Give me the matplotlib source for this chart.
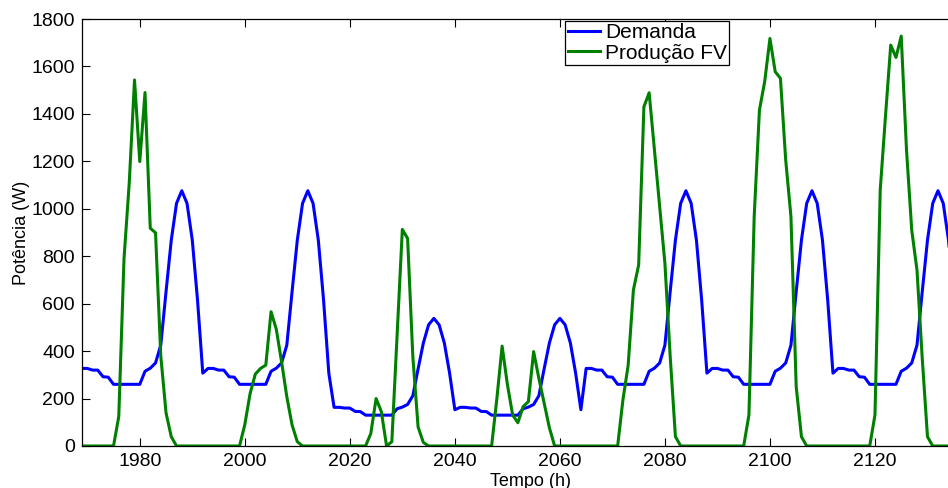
import numpy as np
import matplotlib.pyplot as plt

plt.rcParams['font.family'] = ['Liberation Sans', 'DejaVu Sans']

# hourly time axis
horas = np.arange(1969, 2137)

# load demand (W), one line per 24 h block
demanda = [
    327, 327, 320, 320, 292, 290,                                                   # 1969-1974
    260, 260, 260, 260, 260, 260, 315, 328, 350, 425, 650, 868,
    1023, 1076, 1023, 868, 615, 307, 327, 327, 320, 320, 292, 290,                  # 1975-1998
    260, 260, 260, 260, 260, 260, 315, 328, 350, 425, 650, 868,
    1023, 1076, 1023, 868, 615, 307, 163, 163, 160, 160, 146, 145,                  # 1999-2022
    130, 130, 130, 130, 130, 130, 157, 164, 175, 212, 325, 434,
    511, 538, 511, 434, 307, 153, 163, 163, 160, 160, 146, 145,                     # 2023-2046
    130, 130, 130, 130, 130, 130, 157, 164, 175, 212, 325, 434,
    511, 538, 511, 434, 307, 153, 327, 327, 320, 320, 292, 290,                     # 2047-2070
    260, 260, 260, 260, 260, 260, 315, 328, 350, 425, 650, 868,
    1023, 1076, 1023, 868, 615, 307, 327, 327, 320, 320, 292, 290,                  # 2071-2094
    260, 260, 260, 260, 260, 260, 315, 328, 350, 425, 650, 868,
    1023, 1076, 1023, 868, 615, 307, 327, 327, 320, 320, 292, 290,                  # 2095-2118
    260, 260, 260, 260, 260, 260, 315, 328, 350, 425, 650, 868,
    1023, 1076, 1023, 868, 615, 307,                                                # 2119-2136
]

# PV production (W)
producao = [
    0, 0, 0, 0, 0, 0,                                                               # 1969-1974
    0, 124, 790, 1110, 1543, 1199, 1490, 918, 899, 380, 140, 39,
    0, 0, 0, 0, 0, 0, 0, 0, 0, 0, 0, 0,                                             # 1975-1998
    0, 90, 220, 303, 327, 341, 566, 492, 355, 208, 89, 18,
    0, 0, 0, 0, 0, 0, 0, 0, 0, 0, 0, 0,                                             # 1999-2022
    0, 53, 200, 145, 0, 18, 470, 913, 875, 376, 80, 15,
    0, 0, 0, 0, 0, 0, 0, 0, 0, 0, 0, 0,                                             # 2023-2046
    0, 200, 421, 260, 131, 98, 166, 187, 398, 285, 181, 77,
    0, 0, 0, 0, 0, 0, 0, 0, 0, 0, 0, 0,                                             # 2047-2070
    0, 194, 340, 658, 763, 1430, 1489, 1250, 1010, 770, 380, 40,
    0, 0, 0, 0, 0, 0, 0, 0, 0, 0, 0, 0,                                             # 2071-2094
    0, 131, 967, 1416, 1536, 1718, 1578, 1550, 1206, 967, 250, 39,
    0, 0, 0, 0, 0, 0, 0, 0, 0, 0, 0, 0,                                             # 2095-2118
    0, 131, 1079, 1390, 1690, 1638, 1728, 1250, 910, 742, 370, 39,
    0, 0, 0, 0, 0, 0,                                                               # 2119-2136
]

xticks = [1980, 2000, 2020, 2040, 2060, 2080, 2100, 2120]
yticks = [0, 200, 400, 600, 800, 1000, 1200, 1400, 1600, 1800]

fig = plt.figure(figsize=(9.48, 4.88), dpi=100)
# axes runs past the right edge of the picture, like the cropped original
ax = fig.add_axes([82 / 948, 42 / 488, 898 / 948, 427 / 488])

ax.plot(horas, demanda, color='#0000ff', lw=2.2, label='Demanda')
ax.plot(horas, producao, color='#008000', lw=2.2, label='Produção FV')

ax.set_xlim(1969, 2140)
ax.set_ylim(0, 1800)
ax.set_xticks(xticks)
ax.set_yticks(yticks)
ax.tick_params(direction='in', top=True, right=False, length=6, width=0.8,
               labelsize=14, pad=5)
for s in ax.spines.values():
    s.set_linewidth(0.9)

ax.set_xlabel('Tempo (h)', fontsize=13, labelpad=2)
ax.set_ylabel('Potência (W)', fontsize=13, labelpad=1)

leg = ax.legend(loc='upper left', bbox_to_anchor=(565 / 948, 1 - 21 / 488),
                bbox_transform=fig.transFigure, fontsize=15, fancybox=False,
                framealpha=1, edgecolor='black', borderpad=0.12,
                labelspacing=0.05, handlelength=1.55, handletextpad=0.25,
                borderaxespad=0)
leg.get_frame().set_linewidth(0.9)

fig.savefig('out.png', dpi=100)
